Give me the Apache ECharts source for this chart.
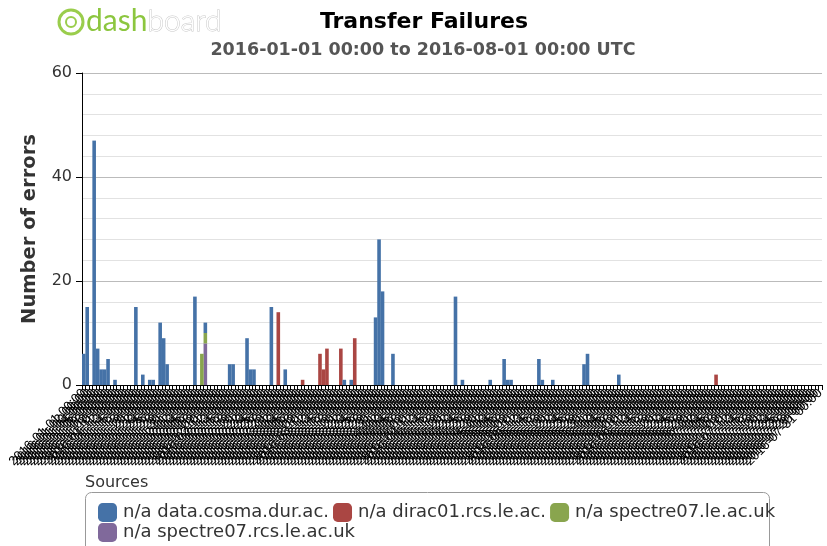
<!DOCTYPE html>
<html>
<head>
<meta charset="utf-8">
<script src="https://cdn.jsdelivr.net/npm/echarts@6/dist/echarts.min.js"></script>
<style>html,body{margin:0;padding:0;background:#fff}#c{width:827px;height:546px}</style>
</head>
<body>
<div id="c"></div>
<script>
// Days from 2016-01-01 to 2016-07-31 (category labels)
var startDate = '2016-01-01';
var dayCount = 213;
// [dayIndex, errors]
var cosmaData = [[0,6],[1,15],[3,47],[4,7],[5,3],[6,3],[7,5],[9,1],[15,15],[17,2],[19,1],[20,1],[22,12],[23,9],[24,4],[32,17],[35,2],[42,4],[43,4],[47,9],[48,3],[49,3],[54,15],[58,3],[75,1],[77,1],[84,13],[85,28],[86,18],[89,6],[107,17],[109,1],[117,1],[121,5],[122,1],[123,1],[131,5],[132,1],[135,1],[144,4],[145,6],[154,2]];
var diracData = [[56,14],[63,1],[68,6],[69,3],[70,7],[74,7],[78,9],[182,2]];
var spectreLeData = [[34,6],[35,2]];
var spectreRcsData = [[35,8]];
var seriesNames = ['n/a data.cosma.dur.ac.', 'n/a dirac01.rcs.le.ac.', 'n/a spectre07.le.ac.uk', 'n/a spectre07.rcs.le.ac.uk'];
var yTicks = [0, 20, 40, 60];

function pad(n){return n<10?'0'+n:''+n;}
var categories = [];
var d0 = new Date(startDate + 'T00:00:00Z');
for (var i = 0; i < dayCount; i++) {
  var d = new Date(d0.getTime() + i*86400000);
  categories.push(d.getUTCFullYear() + '-' + pad(d.getUTCMonth()+1) + '-' + pad(d.getUTCDate()) + ' 00:00');
}

var colors = ['#4572A7', '#AA4643', '#89A54E', '#80699B'];
var datas = [cosmaData, diracData, spectreLeData, spectreRcsData];
var series = [];
// ECharts stacks first series at bottom; reference has first series on top
for (var k = 3; k >= 0; k--) {
  series.push({
    name: seriesNames[k], type: 'bar', stack: 'all',
    data: datas[k], itemStyle: {color: colors[k]},
    barWidth: 3.6
  });
}

var chart = echarts.init(document.getElementById('c'));
chart.setOption({
  animation: false,
  title: [
    {text: 'Transfer Failures', left: 419, top: 6, textAlign: 'center',
     textStyle: {fontFamily: 'DejaVu Sans', fontWeight: 'bold', fontSize: 22, color: '#000'}},
    {text: '2016-01-01 00:00 to 2016-08-01 00:00 UTC', left: 418, top: 36, textAlign: 'center',
     textStyle: {fontFamily: 'DejaVu Sans', fontWeight: 'bold', fontSize: 17.5, color: '#555'}}
  ],
  legend: {
    data: seriesNames, left: 93, top: 498, width: 720, orient: 'horizontal',
    itemWidth: 19, itemHeight: 19, itemGap: 1, icon: 'roundRect',
    textStyle: {fontFamily: 'DejaVu Sans', fontSize: 18, lineHeight: 18, color: '#333', padding: [0,3,0,1]}
  },
  graphic: [
    {type: 'rect', shape: {x: 85.5, y: 492.5, width: 684, height: 60, r: 6}, style: {fill: 'none', stroke: '#999', lineWidth: 1}, z: 0},
    {type: 'text', x: 85, y: 475, style: {text: 'Sources', font: '16px "DejaVu Sans"', fill: '#333'}},
    {type: 'circle', shape: {cx: 71, cy: 22, r: 12}, style: {fill: 'none', stroke: '#9acd4c', lineWidth: 3}},
    {type: 'circle', shape: {cx: 71, cy: 22, r: 5}, style: {fill: 'none', stroke: '#9acd4c', lineWidth: 2}},
    {type: 'text', x: 86, y: 6, style: {text: '{a|dash}{b|board}', rich: {
      a: {font: '400 30px Lato', fill: '#8cc63f'},
      b: {font: '300 30px Lato', fill: '#fff', stroke: '#c8c8c8', lineWidth: 1}
    }}}
  ],
  grid: {left: 82, width: 744, top: 73, height: 312},
  xAxis: {
    type: 'category', data: categories,
    axisLine: {lineStyle: {color: '#000', width: 1}},
    axisTick: {show: true, interval: 0, length: 5, lineStyle: {color: '#000'}},
    axisLabel: {interval: 0, rotate: 45, fontSize: 13, fontFamily: 'Liberation Sans', color: '#000', margin: 6}
  },
  yAxis: {
    type: 'value', min: yTicks[0], max: yTicks[yTicks.length-1], interval: 20,
    name: 'Number of errors', nameLocation: 'middle', nameGap: 42, nameRotate: 90,
    nameTextStyle: {fontFamily: 'DejaVu Sans', fontWeight: 'bold', fontSize: 19.5, color: '#333'},
    axisLine: {show: true, lineStyle: {color: '#000', width: 1}},
    axisTick: {show: true, length: 6, lineStyle: {color: '#000'}},
    axisLabel: {fontFamily: 'DejaVu Sans', fontSize: 16, color: '#333', margin: 10},
    splitLine: {lineStyle: {color: '#bbb', width: 1}},
    minorTick: {show: false, splitNumber: 5},
    minorSplitLine: {show: true, lineStyle: {color: '#e2e2e2', width: 1}}
  },
  series: series
});
</script>
</body>
</html>
